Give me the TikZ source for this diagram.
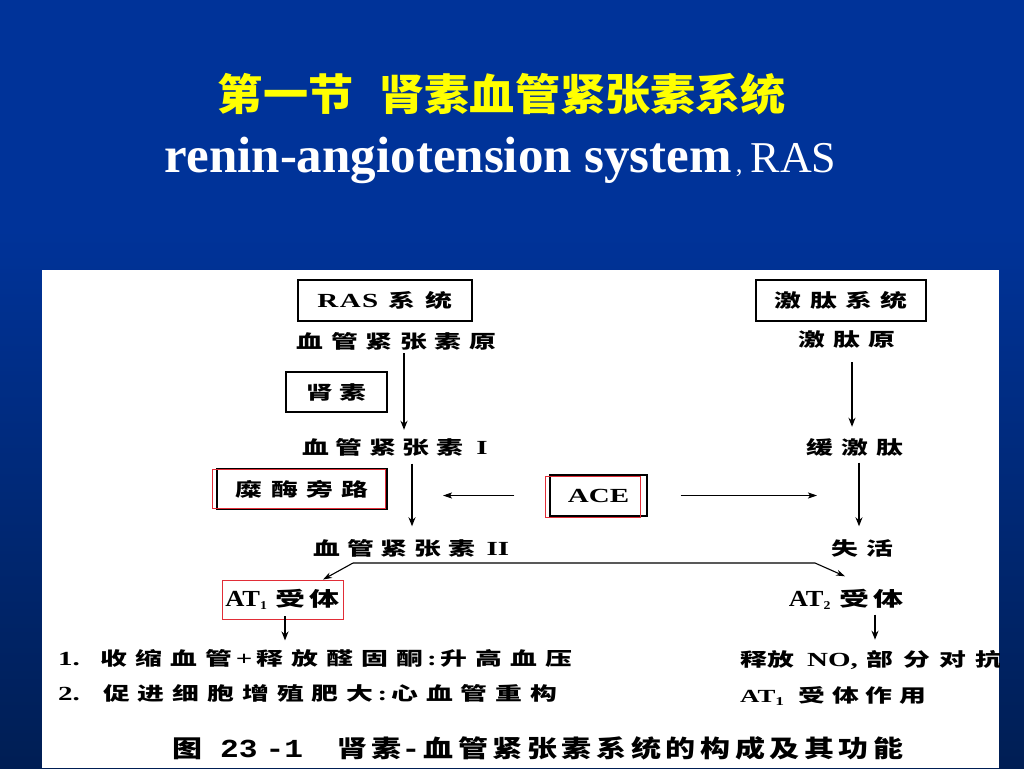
\documentclass[tikz,border=0pt]{standalone}
\usepackage{fontspec}
\usepackage{graphicx}
\usetikzlibrary{arrows.meta}
\setmainfont{Liberation Serif}
\newfontfamily\cjk{Noto Sans CJK SC}
\newfontfamily\latb[FakeStretch=1.15]{Liberation Serif}
\newfontfamily\cmono[FakeStretch=1.2]{Liberation Mono}
\makeatletter
\newcommand\spr[2]{\begingroup\let\spr@sep\relax\@tfor\spr@t:=#2\do{\spr@sep\spr@t\def\spr@sep{\hspace{#1}}}\endgroup}
\makeatother
\newcommand\W[1]{\scalebox{1.45}[1]{#1}}
\newcommand\LB[1]{{\rmfamily\bfseries\fontsize{20pt}{20pt}\selectfont #1}}
\newcommand\LBB[1]{{\latb\bfseries\fontsize{23pt}{23pt}\selectfont #1}}
\newcommand\subn[1]{\raisebox{-3pt}{\fontsize{12pt}{12pt}\selectfont #1}}
\definecolor{bgtop}{RGB}{0,51,153}
\definecolor{bgbot}{RGB}{0,30,84}
\definecolor{ttlyel}{RGB}{255,255,0}
\definecolor{redln}{RGB}{225,45,55}
\tikzset{
  lbl/.style={inner sep=2pt, text height=15pt, text depth=1pt, font=\cjk\bfseries\fontsize{18.5pt}{18.5pt}\selectfont},
  boxn/.style={lbl, draw=black, line width=1.3pt},
  redbox/.style={draw=redln, line width=0.9pt},
  atl/.style={inner sep=2pt, text height=16pt, text depth=2pt, font=\cjk\bfseries\fontsize{20pt}{20pt}\selectfont},
  varr/.style={line width=1.5pt, -{Stealth[length=9pt,width=7pt]}},
  harr/.style={line width=1pt, -{Stealth[length=9pt,width=6pt,inset=2pt]}},
  sarr/.style={line width=1.1pt, -{Stealth[length=9pt,width=6pt]}},
}
\begin{document}
\begin{tikzpicture}[x=1pt,y=-1pt]
\useasboundingbox (0,0) rectangle (1024,768);
% background
\fill[bgtop] (0,0) rectangle (1024,231);
\shade[top color=bgtop, bottom color=bgbot] (0,230) rectangle (1024,768);
% title
\node[anchor=base, text=ttlyel, inner sep=0pt, font=\cjk\bfseries\fontsize{43pt}{43pt}\selectfont] (title1) at (502,110) {\scalebox{1.05}[1]{第一节\hspace{25pt}肾素血管紧张素系统}};
\node[anchor=base, text=white, inner sep=0pt] (title2) at (500.5,172) {{\bfseries\fontsize{51pt}{51pt}\selectfont renin-angiotension system}{\fontsize{27pt}{27pt}\selectfont\hspace{4pt},\hspace{8pt}}{\fontsize{44pt}{44pt}\selectfont RAS}};
% panel
\fill[white] (42,270) rectangle (999,768);
\begin{scope}
\clip (42,270) rectangle (999,768);
% boxes and labels
\node[boxn, minimum width=174pt, minimum height=41pt] (ras) at (385,300.5) {\W{\LB{R\hspace{1pt}A\hspace{1pt}S}\hspace{7pt}\spr{7.2pt}{系统}}};
\node[boxn, minimum width=170pt, minimum height=41pt] (kin) at (841,300.5) {\W{\spr{5.7pt}{激肽系统}}};
\node[lbl] (ang0) at (396.5,341) {\W{\spr{5.3pt}{血管紧张素原}}};
\node[lbl] (kin0) at (846.5,339) {\W{\spr{5.7pt}{激肽原}}};
\node[boxn, minimum width=101pt, minimum height=40pt] (renin) at (336.5,392) {\W{\spr{4.4pt}{肾素}}};
\node[lbl] (ang1) at (395,447) {\W{\spr{4.65pt}{血管紧张素}\hspace{9pt}\LB{I}}};
\node[lbl] (brady) at (855,447) {\W{\spr{5.4pt}{缓激肽}}};
\node[boxn, minimum width=170pt, minimum height=40pt] (chym) at (302,489) {\W{\spr{5.7pt}{糜酶旁路}}};
\draw[redbox] ([xshift=-4pt,yshift=-1pt]chym.north west) rectangle ([xshift=-2pt,yshift=1pt]chym.south east);
\node[boxn, minimum width=97pt, minimum height=41pt] (ace) at (598.5,495.5) {\W{\LB{ACE}}};
\draw[redbox] ([xshift=-4pt,yshift=-2pt]ace.north west) rectangle ([xshift=-7pt,yshift=-1pt]ace.south east);
\node[lbl] (ang2) at (411.5,548) {\W{\spr{4.65pt}{血管紧张素}\hspace{8pt}\LB{II}}};
\node[lbl] (inact) at (862.5,548) {\W{\spr{5.1pt}{失活}}};
\node[atl, draw=redln, line width=0.9pt, minimum width=121pt, minimum height=39pt] (at1) at (282.5,599.5) {\LBB{AT\subn{1}}\hspace{9pt}\scalebox{1.5}[1]{\spr{2.5pt}{受体}}};
\node[atl] (at2) at (846,599) {\LBB{AT\subn{2}}\hspace{9pt}\scalebox{1.5}[1]{\spr{2.5pt}{受体}}};
\node[lbl, anchor=west, inner sep=0pt] (eff1) at (58,658) {\W{\LB{1.}\hspace{14pt}\spr{5.6pt}{收缩血管}\hspace{2.8pt}\LB{+}\hspace{2.8pt}\spr{5.6pt}{释放醛固酮}\hspace{2.8pt}\LB{:}\hspace{2.8pt}\spr{5.6pt}{升高血压}}};
\node[lbl, anchor=west, inner sep=0pt] (eff2) at (58,693) {\W{\LB{2.}\hspace{16pt}\spr{5.5pt}{促进细胞增殖肥大}\hspace{2.8pt}\LB{:}\hspace{2.8pt}\spr{5.5pt}{心血管重构}}};
\node[lbl, anchor=west, inner sep=0pt] (r1) at (740,659) {\W{\spr{0pt}{释放}\hspace{9.2pt}\LB{NO,}\hspace{6.2pt}\spr{6.5pt}{部分对抗}}};
\node[lbl, anchor=west, inner sep=0pt] (r2) at (740,695) {\W{{\rmfamily\bfseries\fontsize{18.5pt}{18.5pt}\selectfont AT\subn{1}}\hspace{9.7pt}\spr{4.8pt}{受体作用}}};
\node[anchor=west, inner sep=0pt, text height=20pt, text depth=2pt, font=\cjk\bfseries\fontsize{24pt}{24pt}\selectfont] (cap) at (172,748) {\scalebox{1.25}[1]{图}\hspace{18pt}{\cmono\bfseries\fontsize{26pt}{26pt}\selectfont 23\hspace{8pt}-1}\hspace{34pt}\scalebox{1.25}[1]{\spr{3.7pt}{肾素}}{\cmono\bfseries\fontsize{26pt}{26pt}\selectfont -}\hspace{3pt}\scalebox{1.25}[1]{\spr{3.7pt}{血管紧张素系统的构成及其功能}}};
% arrows
\draw[varr] ([xshift=7.5pt,yshift=-2pt]ang0.south) -- ([xshift=9pt,yshift=7pt]ang1.north);
\draw[varr] ([xshift=5.5pt,yshift=-13pt]kin0.south) -- ([xshift=-3pt,yshift=10pt]brady.north);
\draw[varr] ([xshift=17pt,yshift=-6.5pt]ang1.south) -- ([xshift=0.5pt,yshift=11.5pt]ang2.north);
\draw[varr] ([xshift=4pt,yshift=-5.5pt]brady.south) -- ([xshift=-3.5pt,yshift=11.5pt]inact.north);
\coordinate (aceL) at (443,495.5);
\coordinate (aceR) at (817,495.5);
\draw[harr] ([xshift=-35pt]ace.west) -- (aceL);
\draw[harr] ([xshift=33pt]ace.east) -- (aceR);
\coordinate (sp1) at (353,563);
\coordinate (sp2) at (815,563);
\draw[sarr] (sp1) -- ([xshift=40.5pt]at1.north);
\draw[sarr] (sp1) -- (sp2) -- ([xshift=-1pt,yshift=11.5pt]at2.north);
\draw[varr] ([xshift=2.5pt,yshift=3pt]at1.south) -- ++(0,24);
\draw[varr] ([xshift=29pt,yshift=-4.5pt]at2.south) -- ++(0,25);
\end{scope}
\end{tikzpicture}
\end{document}
